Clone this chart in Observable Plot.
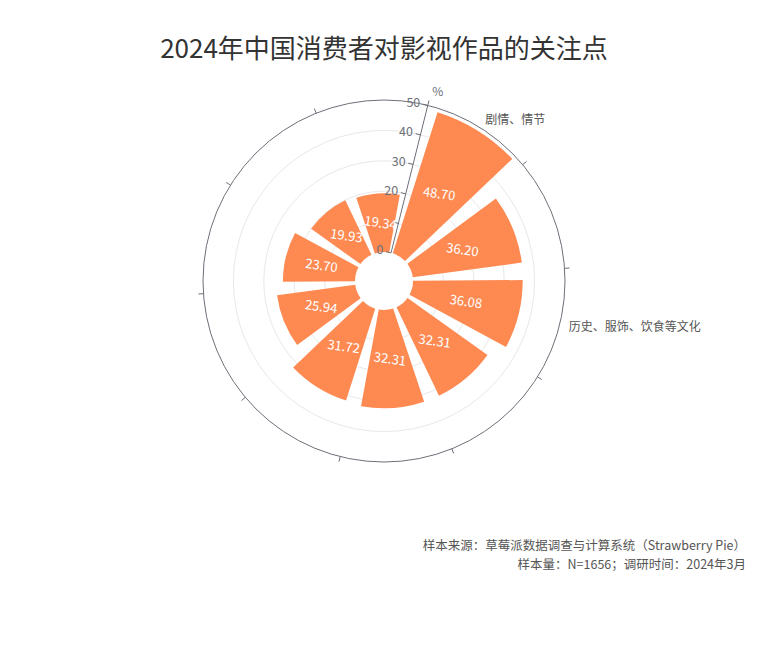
<!DOCTYPE html>
<html>
<head>
<meta charset="utf-8">
<script src="https://cdn.jsdelivr.net/npm/d3@7"></script>
<script src="https://cdn.jsdelivr.net/npm/@observablehq/plot@0.6"></script>
<style>
  body { margin: 0; background: #fff; font-family: "Noto Sans CJK SC", "Noto Sans", sans-serif; }
  #wrap { position: relative; width: 768px; height: 658px; overflow: hidden; }
  #chart { position: absolute; left: 0; top: 0; }
  #title { position: absolute; left: 0; top: 33px; width: 768px; text-align: center; font-size: 26px; line-height: 28px; color: #333; }
  #caption { position: absolute; right: 22px; top: 535px; text-align: right; font-size: 12.5px; line-height: 19px; color: #555; }
</style>
</head>
<body>
<div id="wrap">
  <div id="chart"></div>
  <div id="title">2024年中国消费者对影视作品的关注点</div>
  <div id="caption">样本来源：草莓派数据调查与计算系统（Strawberry Pie）<br>样本量：N=1656；调研时间：2024年3月</div>
</div>
<script>
// ---- data ----
const categories = ["剧情、情节", "", "历史、服饰、饮食等文化", "", "", "", "", "", "", ""];
const values = [48.70, 36.20, 36.08, 32.31, 32.31, 31.72, 25.94, 23.70, 19.93, 19.34];
const radialTicks = [0, 10, 20, 30, 40, 50];
const radialTickLabels = [0, 20, 30, 40, 50];
const radialName = "%";

// ---- layout ----
const W = 768, H = 658;
const cx = 384, cy = 281;
const startDeg = 14;
const orange = "#fe8a52";
const axisColor = "#6e7079";

const idx = d3.range(values.length);
const angle = d3.scaleBand()
  .domain(idx)
  .range([startDeg * Math.PI / 180, startDeg * Math.PI / 180 + 2 * Math.PI])
  .paddingInner(0.2)
  .paddingOuter(0.1);
const step = angle.step();
const boundary = i => angle.range()[0] + i * step;
const rScale = d3.scaleLinear().domain([0, d3.max(radialTicks)]).range([29, 181]);

const px = (r, a) => cx + r * Math.sin(a);
const py = (r, a) => cy - r * Math.cos(a);

const rows = idx.map(i => ({
  cat: categories[i],
  value: values[i],
  a0: angle(i),
  a1: angle(i) + angle.bandwidth(),
  mid: angle(i) + angle.bandwidth() / 2
}));

const axisA = angle.range()[0];
const tickRows = radialTicks.map(t => ({t, r: rScale(t)}));
const labelRows = radialTickLabels.map(t => ({t, r: rScale(t)}));
const R = rScale(d3.max(radialTicks));

// grid circles
function gridLayer(index, scales) {
  const g = d3.create("svg:g");
  g.selectAll("circle").data(radialTicks.filter(t => t > 0 && t < d3.max(radialTicks)))
    .join("circle").attr("cx", scales.x(cx)).attr("cy", scales.y(cy)).attr("r", d => rScale(d))
    .attr("fill", "none").attr("stroke", "#e8e8e8").attr("stroke-width", 1);
  return g.node();
}

// bars and axes
function polarLayer(index, scales) {
  const g = d3.create("svg:g");
  const X = v => scales.x(v), Y = v => scales.y(v);
  const arc = d3.arc();
  g.selectAll("path.bar").data(rows).join("path")
    .attr("transform", `translate(${X(cx)},${Y(cy)})`)
    .attr("d", d => arc({innerRadius: rScale(0), outerRadius: rScale(d.value), startAngle: d.a0, endAngle: d.a1}))
    .attr("fill", orange);
  // outer angle axis circle
  g.append("circle").attr("cx", X(cx)).attr("cy", Y(cy)).attr("r", R)
    .attr("fill", "none").attr("stroke", axisColor).attr("stroke-width", 1);
  // angle ticks (outward) at category boundaries
  g.selectAll("line.atick").data(idx).join("line")
    .attr("x1", i => X(px(R, boundary(i)))).attr("y1", i => Y(py(R, boundary(i))))
    .attr("x2", i => X(px(R + 5, boundary(i)))).attr("y2", i => Y(py(R + 5, boundary(i))))
    .attr("stroke", axisColor);
  // radial axis line
  g.append("line")
    .attr("x1", X(px(rScale(0), axisA))).attr("y1", Y(py(rScale(0), axisA)))
    .attr("x2", X(px(R, axisA))).attr("y2", Y(py(R, axisA)))
    .attr("stroke", axisColor);
  // radial ticks (to the left of the axis)
  const nx = -Math.cos(axisA), ny = -Math.sin(axisA);
  g.selectAll("line.rtick").data(tickRows).join("line")
    .attr("x1", d => X(px(d.r, axisA))).attr("y1", d => Y(py(d.r, axisA)))
    .attr("x2", d => X(px(d.r, axisA)) + 5 * nx).attr("y2", d => Y(py(d.r, axisA)) + 5 * ny)
    .attr("stroke", axisColor);
  return g.node();
}

const chart = Plot.plot({
  width: W,
  height: H,
  margin: 0,
  x: {type: "linear", domain: [0, W], range: [0, W], axis: null},
  y: {type: "linear", domain: [0, H], range: [0, H], axis: null},
  style: {fontFamily: "'Noto Sans CJK SC', 'Noto Sans', sans-serif", background: "transparent"},
  marks: [
    gridLayer,
    polarLayer,
    // radial tick labels
    Plot.text(labelRows, {
      x: d => px(d.r, axisA),
      y: d => py(d.r, axisA),
      text: d => String(d.t),
      fill: axisColor,
      fontSize: 12.5,
      textAnchor: "end",
      dx: -8,
      dy: -3
    }),
    // value labels inside bars
    Plot.text(rows, {
      x: d => px((rScale(0) + rScale(d.value)) / 2, d.mid),
      y: d => py((rScale(0) + rScale(d.value)) / 2, d.mid),
      text: d => d.value.toFixed(2),
      fill: "#fff",
      fontSize: 13,
      rotate: 8
    }),
    // category labels
    Plot.text(rows.filter(d => d.cat !== ""), {
      x: d => px(190, d.mid),
      y: d => py(190, d.mid),
      text: "cat",
      fill: "#555",
      fontSize: 12,
      textAnchor: "start"
    }),
    // radial axis name
    Plot.text([radialName], {
      x: () => px(R + 14, axisA),
      y: () => py(R + 14, axisA),
      text: d => d,
      fill: axisColor,
      fontSize: 12,
      dx: 6
    })
  ]
});
document.getElementById("chart").appendChild(chart);
</script>
</body>
</html>
